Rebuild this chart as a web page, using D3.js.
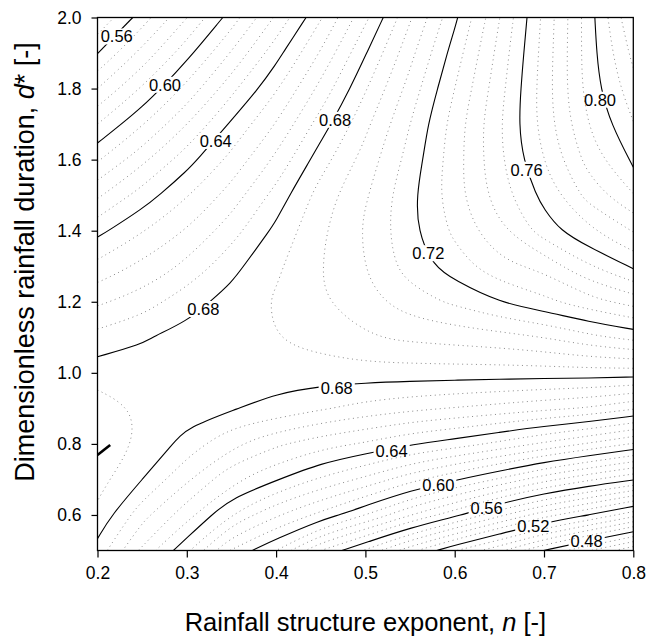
<!DOCTYPE html>
<html>
<head>
<meta charset="utf-8">
<script src="https://cdn.jsdelivr.net/npm/d3@7"></script>
<style>
  body { margin: 0; background: #fff; }
  text { font-family: "Liberation Sans", Arial, Helvetica, sans-serif; }
</style>
</head>
<body>
<svg id="chart" width="648" height="638"></svg>
<script>
// ---- data ----
// grid columns: rainfall structure exponent n
var nValues = [0.20, 0.25, 0.30, 0.35, 0.40, 0.45, 0.50, 0.55, 0.60, 0.65, 0.70, 0.75, 0.80];
// grid rows: dimensionless rainfall duration d* (bottom row first)
var dValues = [0.5, 0.6, 0.7, 0.8, 0.9, 1.0, 1.1, 1.2, 1.3, 1.4, 1.5, 1.6, 1.7, 1.8, 1.9, 2.0];
// estimated surface value at every grid node, one row per d* value
var zRows = [
  [0.677, 0.654, 0.634, 0.607, 0.592, 0.568, 0.551, 0.531, 0.5126, 0.498, 0.4798, 0.4646, 0.4497],
  [0.686, 0.667, 0.651, 0.6313, 0.6169, 0.6055, 0.5924, 0.5763, 0.5627, 0.5457, 0.5314, 0.520, 0.5069],
  [0.691, 0.680, 0.665, 0.6498, 0.6407, 0.6305, 0.622, 0.611, 0.6009, 0.5908, 0.579, 0.5693, 0.5609],
  [0.694, 0.6865, 0.677, 0.6652, 0.6575, 0.6514, 0.6469, 0.6405, 0.6361, 0.6298, 0.6224, 0.6151, 0.6073],
  [0.692, 0.687, 0.6835, 0.6805, 0.6775, 0.673, 0.669, 0.666, 0.6635, 0.661, 0.658, 0.655, 0.649],
  [0.6843, 0.683, 0.6845, 0.6858, 0.6836, 0.6842, 0.6844, 0.6844, 0.6843, 0.6842, 0.6842, 0.6843, 0.6841],
  [0.6748, 0.6793, 0.6825, 0.6855, 0.6885, 0.6915, 0.6957, 0.6977, 0.6993, 0.701, 0.7041, 0.7099, 0.7145],
  [0.6626, 0.6678, 0.677, 0.6828, 0.689, 0.6955, 0.7009, 0.7084, 0.7135, 0.7205, 0.7257, 0.7329, 0.7392],
  [0.6504, 0.6575, 0.6654, 0.6776, 0.6865, 0.6957, 0.7048, 0.7155, 0.7242, 0.7333, 0.7386, 0.7516, 0.7616],
  [0.6377, 0.6471, 0.6562, 0.6686, 0.682, 0.6945, 0.705, 0.718, 0.7297, 0.7426, 0.756, 0.767, 0.7766],
  [0.6225, 0.6356, 0.647, 0.6595, 0.675, 0.6915, 0.7036, 0.7178, 0.7329, 0.7482, 0.7625, 0.779, 0.7915],
  [0.607, 0.6213, 0.6368, 0.6504, 0.6656, 0.6844, 0.6992, 0.715, 0.7325, 0.7503, 0.7685, 0.787, 0.8023],
  [0.592, 0.607, 0.6235, 0.6414, 0.6563, 0.6758, 0.694, 0.7121, 0.7317, 0.7511, 0.7714, 0.7924, 0.8076],
  [0.576, 0.5927, 0.6102, 0.6293, 0.6469, 0.6663, 0.6872, 0.7071, 0.728, 0.749, 0.7718, 0.7953, 0.8129],
  [0.5597, 0.5783, 0.597, 0.6166, 0.637, 0.6567, 0.6794, 0.7015, 0.7237, 0.7467, 0.771, 0.796, 0.8182],
  [0.545, 0.564, 0.5838, 0.6039, 0.6253, 0.6472, 0.670, 0.695, 0.7183, 0.7437, 0.770, 0.7962, 0.8235]
];
// solid (labelled) and dotted contour levels
var majorLevels = [0.48, 0.52, 0.56, 0.60, 0.64, 0.68, 0.72, 0.76, 0.80];
var minorLevels = [0.448, 0.456, 0.464, 0.472, 0.488, 0.496, 0.504, 0.512, 0.528, 0.536, 0.544, 0.552,
                   0.568, 0.576, 0.584, 0.592, 0.608, 0.616, 0.624, 0.632, 0.648, 0.656, 0.664, 0.672,
                   0.688, 0.696, 0.704, 0.712, 0.728, 0.736, 0.744, 0.752, 0.768, 0.776, 0.784, 0.792,
                   0.808, 0.816, 0.824, 0.832];
// contour labels
var labelText = ["0.56", "0.60", "0.64", "0.68", "0.68", "0.72", "0.76", "0.80", "0.68", "0.64", "0.60", "0.56", "0.52", "0.48"];
var labelN = [0.2215, 0.2756, 0.3324, 0.3185, 0.466, 0.5704, 0.6806, 0.7627, 0.4679, 0.5294, 0.5816, 0.6358, 0.688, 0.7478];
var labelD = [1.946, 1.810, 1.652, 1.179, 1.7115, 1.336, 1.571, 1.768, 0.958, 0.778, 0.684, 0.619, 0.567, 0.527];
// short heavy stroke at the left edge
var markN = [0.2, 0.2142];
var markD = [0.769, 0.797];
// axis ticks
var xTicks = [0.2, 0.3, 0.4, 0.5, 0.6, 0.7, 0.8];
var yTicks = [0.6, 0.8, 1.0, 1.2, 1.4, 1.6, 1.8, 2.0];

// ---- layout ----
var margin = {top: 17.5, left: 97.5};
var width = 535.8, height = 533;

var svg = d3.select("#chart");
var g = svg.append("g").attr("transform", `translate(${margin.left},${margin.top})`);

var xScale = d3.scaleLinear().domain([0.2, 0.8]).range([0, width]);
var yScale = d3.scaleLinear().domain([0.5, 2.0]).range([height, 0]);

var defs = svg.append("defs");
defs.append("clipPath").attr("id", "plotClip")
  .append("rect").attr("width", width).attr("height", height);
var mask = defs.append("mask").attr("id", "labelMask")
  .attr("maskUnits", "userSpaceOnUse")
  .attr("x", -100).attr("y", -100).attr("width", 800).attr("height", 800);
mask.append("rect").attr("x", -100).attr("y", -100).attr("width", 800).attr("height", 800).attr("fill", "white");

// ---- contours ----
var nx = nValues.length, ny = dValues.length;
var gridValues = [];
zRows.forEach(row => row.forEach(v => gridValues.push(v)));

var allLevels = majorLevels.concat(minorLevels).sort(d3.ascending);
var contours = d3.contours().size([nx, ny]).thresholds(allLevels)(gridValues);

var stepN = nValues[1] - nValues[0], stepD = dValues[1] - dValues[0];
function toData(p) { return [nValues[0] + (p[0] - 0.5) * stepN, dValues[0] + (p[1] - 0.5) * stepD]; }
function onPad(p) { return p[0] <= 0 || p[0] >= nx || p[1] <= 0 || p[1] >= ny; }

// cut each ring where it runs along the padded border, keep the real lines
function splitRing(ring) {
  var pts = ring.slice();
  var a = pts[0], b = pts[pts.length - 1];
  if (a[0] === b[0] && a[1] === b[1]) pts.pop();
  var k = pts.findIndex(onPad);
  if (k < 0) return [{closed: true, pts: pts}];
  var rot = pts.slice(k).concat(pts.slice(0, k));
  var runs = [], cur = [];
  rot.forEach(function(p) {
    if (onPad(p)) { if (cur.length > 1) runs.push({closed: false, pts: cur}); cur = []; }
    else cur.push(p);
  });
  if (cur.length > 1) runs.push({closed: false, pts: cur});
  return runs;
}

// drop vertices that sit too close together (they make kinks in the spline)
var minGap = 11;
function thin(pts, closed) {
  var px = pts.map(p => [xScale(p[0]), yScale(p[1])]);
  if (px.length < 3) return px;
  var out = [px[0]];
  for (var i = 1; i < px.length; i++) {
    var last = out[out.length - 1];
    var dist = Math.hypot(px[i][0] - last[0], px[i][1] - last[1]);
    if (i === px.length - 1 && !closed) {
      if (dist < minGap && out.length > 1) out.pop();
      out.push(px[i]);
    } else if (dist >= minGap) {
      out.push(px[i]);
    }
  }
  return out;
}

var lines = [];
contours.forEach(function(c) {
  var isMajor = majorLevels.some(m => Math.abs(m - c.value) < 1e-6);
  c.coordinates.forEach(function(poly) {
    poly.forEach(function(ring) {
      splitRing(ring).forEach(function(run) {
        lines.push({major: isMajor, closed: run.closed, pts: thin(run.pts.map(toData), run.closed)});
      });
    });
  });
});

var openLine = d3.line().curve(d3.curveBasis);
var closedLine = d3.line().curve(d3.curveBasisClosed);

var plot = g.append("g").attr("clip-path", "url(#plotClip)");

plot.append("g").attr("class", "minor")
  .selectAll("path")
  .data(lines.filter(l => !l.major))
  .join("path")
    .attr("d", l => (l.closed ? closedLine : openLine)(l.pts))
    .attr("fill", "none")
    .attr("stroke", "#8a8a8a")
    .attr("stroke-width", 1)
    .attr("stroke-dasharray", "1,3.6");

var majorG = plot.append("g").attr("class", "major").attr("mask", "url(#labelMask)");
majorG.selectAll("path")
  .data(lines.filter(l => l.major))
  .join("path")
    .attr("d", l => (l.closed ? closedLine : openLine)(l.pts))
    .attr("fill", "none")
    .attr("stroke", "#000")
    .attr("stroke-width", 1.1);

// heavy mark at left edge
plot.append("path")
  .attr("d", d3.line().x(d => xScale(d[0])).y(d => yScale(d[1]))(markN.map((v, i) => [v, markD[i]])))
  .attr("stroke", "#000").attr("stroke-width", 2.6).attr("fill", "none");

// contour labels
var labG = g.append("g").attr("class", "labels");
labelText.forEach(function(t, i) {
  var txt = labG.append("text")
    .attr("x", xScale(labelN[i]))
    .attr("y", yScale(labelD[i]))
    .attr("dy", "0.35em")
    .attr("text-anchor", "middle")
    .style("font-size", "16.5px")
    .attr("fill", "#000")
    .text(t);
  var bb = txt.node().getBBox();
  mask.append("rect")
    .attr("x", bb.x - 2).attr("y", bb.y + 1)
    .attr("width", bb.width + 4).attr("height", bb.height - 2)
    .attr("fill", "black");
});

// ---- axes ----
var xAxis = g.append("g").attr("transform", `translate(0,${height})`)
  .call(d3.axisBottom(xScale).tickValues(xTicks).tickFormat(d3.format(".1f")).tickSize(7).tickPadding(9).tickSizeOuter(0));
var yAxis = g.append("g")
  .call(d3.axisLeft(yScale).tickValues(yTicks).tickFormat(d3.format(".1f")).tickSize(6).tickPadding(10).tickSizeOuter(0));
[xAxis, yAxis].forEach(function(ax) {
  ax.select(".domain").remove();
  ax.selectAll("line").attr("stroke", "#000").attr("stroke-width", 1.2);
  ax.selectAll("text").style("font-size", "17.5px").attr("fill", "#000")
    .style("font-family", '"Liberation Sans", Arial, sans-serif');
});

g.append("rect")
  .attr("width", width).attr("height", height)
  .attr("fill", "none").attr("stroke", "#000").attr("stroke-width", 1.3);

// axis titles
var xTitle = svg.append("text")
  .attr("x", margin.left + width / 2).attr("y", 631)
  .attr("text-anchor", "middle")
  .style("font-size", "25.5px");
xTitle.append("tspan").text("Rainfall structure exponent, ");
xTitle.append("tspan").style("font-style", "italic").text("n");
xTitle.append("tspan").text(" [-]");

var yTitle = svg.append("text")
  .attr("transform", "translate(34,262) rotate(-90)")
  .attr("text-anchor", "middle")
  .style("font-size", "27px");
yTitle.append("tspan").text("Dimensionless rainfall duration, ");
yTitle.append("tspan").style("font-style", "italic").text("d");
yTitle.append("tspan").text("* [-]");
</script>
</body>
</html>
